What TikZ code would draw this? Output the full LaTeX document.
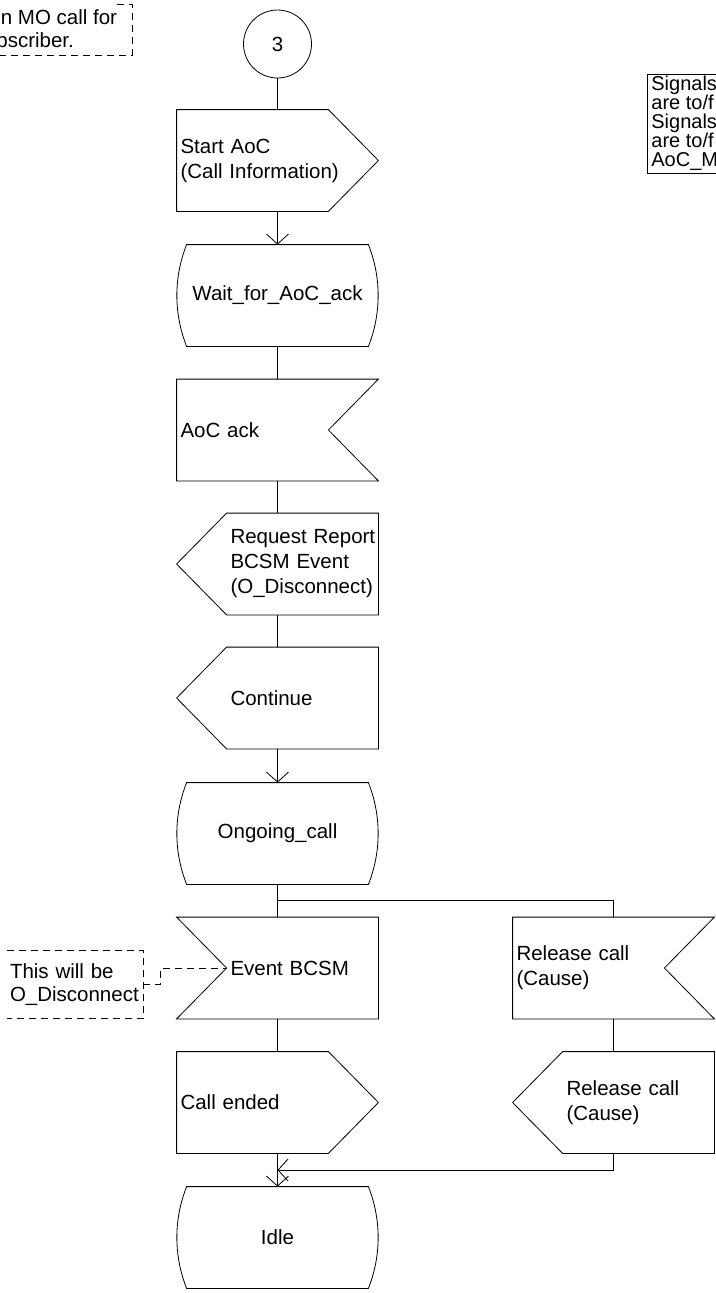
\documentclass[tikz,border=0pt]{standalone}
\usepackage{fontspec}
\setmainfont{Liberation Sans}
\usetikzlibrary{arrows.meta,calc}
\hyphenpenalty=10000
\exhyphenpenalty=10000
\newcommand\stateoutline[1]{\draw ([xshift=10pt]#1.north west) -- ([xshift=-10pt]#1.north east) .. controls ([xshift=3pt,yshift=-33pt]#1.north east) and ([xshift=3pt,yshift=33pt]#1.south east) .. ([xshift=-10pt]#1.south east) -- ([xshift=10pt]#1.south west) .. controls ([xshift=-3pt,yshift=33pt]#1.south west) and ([xshift=-3pt,yshift=-33pt]#1.north west) .. cycle;}
\newcommand\outright[1]{\draw (#1.north west) -- ([xshift=-50pt]#1.north east) -- (#1.east) -- ([xshift=-50pt]#1.south east) -- (#1.south west) -- cycle;}
\newcommand\outleft[1]{\draw (#1.north west) -- (#1.north east) -- (#1.south east) -- (#1.south west) -- ([xshift=-50pt]#1.west) -- cycle;}
\newcommand\inright[1]{\draw (#1.north west) -- (#1.north east) -- ([xshift=-50pt]#1.east) -- (#1.south east) -- (#1.south west) -- cycle;}
\newcommand\inleft[1]{\draw ([xshift=-50pt]#1.north west) -- (#1.north east) -- (#1.south east) -- ([xshift=-50pt]#1.south west) -- (#1.west) -- cycle;}
\begin{document}
\begin{tikzpicture}[x=1pt,y=-1pt,line width=0.8pt,
  every node/.style={font=\fontsize{20.5}{25}\selectfont},
  sym/.style={draw=none, inner xsep=3.5pt, inner ysep=0pt, minimum height=101pt, text width=#1, align=left},
  st/.style={draw=none, inner sep=0pt, minimum width=201pt, minimum height=101pt, align=center},
  arr/.style={-{Straight Barb[length=10pt,width=22pt]}},
  dsh/.style={dash pattern=on 7pt off 5pt, line width=0.7pt},
]
\fill[white] (0,0) rectangle (715,1293);
\useasboundingbox (0,0) rectangle (715,1293);

% comments
\node[anchor=west, inner sep=0pt, align=left, font=\fontsize{20.5}{23}\selectfont] (tlc) at (-4,28.5) {\hspace*{4.5pt}n MO call for\\bscriber.};
\draw[dsh] (117,4) -- (132,4) -- (132,55) -- (0,55);

\draw (716,74) -- (647,74) -- (647,173) -- (716,173);
\node[anchor=west, inner sep=0pt, align=left, font=\fontsize{20}{19}\selectfont] (sig) at (651,123) {Signals\\are to/f\\Signals\\are to/f\\AoC\_M};

% main column
\node[draw, circle, minimum size=68pt, inner sep=0pt] (c3) at (277.5,44) {3};

\node[sym=194pt] (start) at (277.5,160.5) {Start AoC\\(Call Information)};
\outright{start}

\node[st] (wait) at (277.5,295.5) {Wait\_for\_AoC\_ack};
\stateoutline{wait}

\node[sym=194pt] (ack) at (277.5,430) {AoC ack};
\inright{ack}

\node[sym=144pt] (req) at (302.5,564) {\mbox{Request Report}\\\mbox{BCSM Event}\\\mbox{(O\_Disconnect)}};
\outleft{req}

\node[sym=144pt] (cont) at (302.5,698) {Continue};
\outleft{cont}

\node[st] (ongo) at (277.5,833.5) {Ongoing\_call};
\stateoutline{ongo}

\node[sym=144pt] (event) at (302.5,968) {\mbox{Event BCSM}};
\inleft{event}

\node[sym=194pt] (called) at (277.5,1102.5) {Call ended};
\outright{called}

\node[st] (idle) at (277.5,1237.5) {Idle};
\stateoutline{idle}

% right column
\node[sym=194pt] (relin) at (613.5,968) {Release call\\(Cause)};
\inright{relin}

\node[sym=144pt] (relout) at (638.5,1102.5) {\mbox{Release call}\\(Cause)};
\outleft{relout}

% comment on Event BCSM
\node[inner xsep=3pt, inner ysep=0pt, minimum width=136pt, minimum height=67pt, text width=130pt, align=left, font=\fontsize{20.5}{23}\selectfont] (cmt) at (75,984.5) {This will be\\\mbox{O\_Disconnect}};
\draw[dsh] (cmt.north west) -- (cmt.north east) -- (cmt.south east) -- (cmt.south west);
\draw[dsh] (cmt.east) -- ++(17,0) |- (event.west);

% connectors
\draw (c3) -- (start);
\draw[arr] (start) -- (wait);
\draw (wait) -- (ack);
\draw (ack.south) -- (ack.south |- req.north);
\draw (ack.south |- req.south) -- (ack.south |- cont.north);
\draw[arr] (ack.south |- cont.south) -- (ongo.north);
\draw (ongo.south) -- (ongo.south |- event.north);
\coordinate (br) at (277.5,900);
\draw (br) -| (relin.north);
\draw (ongo.south |- event.south) -- (called.north);
\draw[arr] (called.south) -- (idle.north);
\draw (relin.south) -- (relin.south |- relout.north);
\coordinate (mg) at (277.5,1170);
\draw[arr] (relin.south |- relout.south) |- (mg);
\end{tikzpicture}
\end{document}
